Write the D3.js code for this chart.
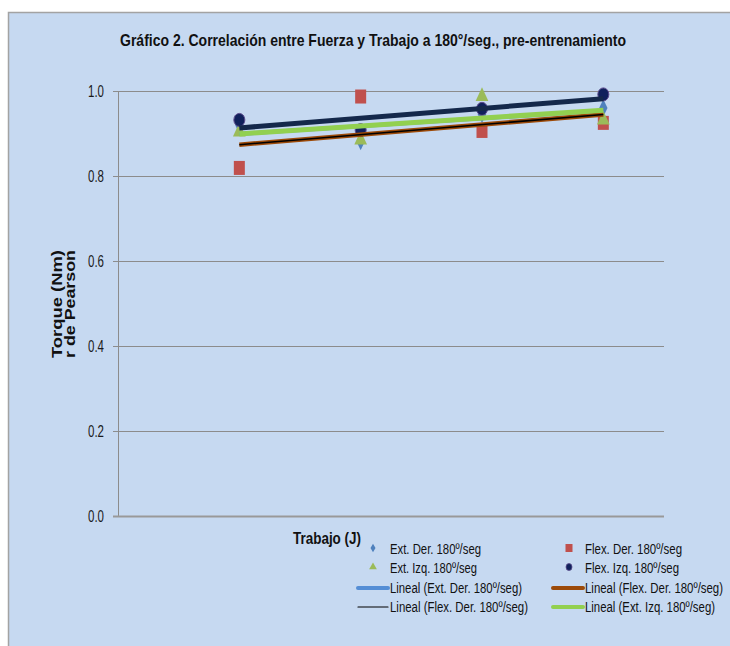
<!DOCTYPE html>
<html>
<head>
<meta charset="utf-8">
<script src="https://cdn.jsdelivr.net/npm/d3@7"></script>
<style>
  html, body { margin: 0; padding: 0; background: #ffffff; }
  svg { display: block; }
</style>
</head>
<body>
<svg id="chart" width="730" height="646"></svg>
<script>
// Session index (1..4) along the Trabajo axis
const sessions = [1, 2, 3, 4];

// Pearson r per series
const extDer  = [0.920, 0.881, 0.945, 0.960];
const flexDer = [0.819, 0.987, 0.906, 0.925];
const extIzq  = [0.904, 0.885, 0.987, 0.932];
const flexIzq = [0.932, 0.908, 0.958, 0.992];

const yTicks = [0.0, 0.2, 0.4, 0.6, 0.8, 1.0];

const titleText = "Gráfico 2. Correlación entre Fuerza y Trabajo a 180°/seg., pre-entrenamiento";
const legendLabels = [
  "Ext. Der. 180º/seg", "Flex. Der. 180º/seg",
  "Ext. Izq. 180º/seg", "Flex. Izq. 180º/seg",
  "Lineal (Ext. Der. 180º/seg)", "Lineal (Flex. Der. 180º/seg)",
  "Lineal (Flex. Der. 180º/seg)", "Lineal (Ext. Izq. 180º/seg)"
];

const svg = d3.select("#chart");
const font = "'Liberation Sans', Arial, sans-serif";

// Condensed lettering: squeeze a text to a given width
function squeeze(sel, w) {
  sel.attr("textLength", w).attr("lengthAdjust", "spacingAndGlyphs");
  return sel;
}

// Chart area panel
svg.append("rect").attr("x", 8.5).attr("y", 12.5).attr("width", 740).attr("height", 650)
  .attr("fill", "#c6d9f1").attr("stroke", "#a3a3a3").attr("stroke-width", 1.5);

const plot = { left: 118, right: 664, top: 91, bottom: 516 };
const x = d3.scaleLinear().domain([0, 4.5]).range([plot.left, plot.right]);
const y = d3.scaleLinear().domain([0, 1]).range([plot.bottom, plot.top]);

// Title
squeeze(svg.append("text").attr("x", 120).attr("y", 46)
  .attr("font-family", font).attr("font-weight", "bold").attr("font-size", 16.5)
  .attr("fill", "#111").text(titleText), 506);

// Gridlines
svg.append("g").selectAll("line").data(yTicks.filter(d => d > 0)).join("line")
  .attr("x1", plot.left).attr("x2", plot.right)
  .attr("y1", d => Math.round(y(d)) + 0.5).attr("y2", d => Math.round(y(d)) + 0.5)
  .attr("stroke", "#8c8c8c").attr("stroke-width", 1);

// Y axis
const yAxis = d3.axisLeft(y).tickValues(yTicks).tickFormat(d3.format(".1f")).tickSize(5).tickPadding(9);
const gy = svg.append("g").attr("transform", `translate(${plot.left},0)`).call(yAxis);
gy.select(".domain").attr("stroke", "#8c8c8c");
gy.selectAll(".tick line").attr("stroke", "#8c8c8c");
gy.selectAll(".tick text").attr("font-family", font).attr("font-size", 16).attr("fill", "#1a1a1a")
  .attr("textLength", 16).attr("lengthAdjust", "spacingAndGlyphs");

// X axis baseline
svg.append("line").attr("x1", plot.left - 5).attr("x2", plot.right)
  .attr("y1", y(0) + 0.5).attr("y2", y(0) + 0.5)
  .attr("stroke", "#999999").attr("stroke-width", 2);

// Y axis title
const yt = svg.append("g").attr("transform", "translate(62,304) rotate(-90)")
  .attr("font-family", font).attr("font-weight", "bold").attr("font-size", 15.5).attr("fill", "#111");
squeeze(yt.append("text").attr("x", -54).attr("y", 0).text("Torque (Nm)"), 108);
squeeze(yt.append("text").attr("x", -54).attr("y", 13).text("r de Pearson"), 108);

// X axis title
squeeze(svg.append("text").attr("x", 293).attr("y", 544).attr("font-family", font)
  .attr("font-weight", "bold").attr("font-size", 16).attr("fill", "#111").text("Trabajo (J)"), 68);

// Least squares fit
function fit(vals) {
  const mx = d3.mean(sessions), my = d3.mean(vals);
  const sxy = d3.sum(sessions, (s, i) => (s - mx) * (vals[i] - my));
  const sxx = d3.sum(sessions, s => (s - mx) * (s - mx));
  const b = sxy / sxx, a = my - b * mx;
  return [sessions[0], sessions[sessions.length - 1]].map(s => [s, a + b * s]);
}

const pts = vals => sessions.map((s, i) => ({ s, v: vals[i] }));
const marks = svg.append("g");

// Markers
const diamond = d3.symbol().type(d3.symbolDiamond).size(60);
marks.append("g").selectAll("path").data(pts(extDer)).join("path")
  .attr("d", diamond)
  .attr("transform", d => `translate(${x(d.s)},${y(d.v)}) scale(1,1.2)`)
  .attr("fill", "#4f81bd");

marks.append("g").selectAll("rect").data(pts(flexDer)).join("rect")
  .attr("x", d => x(d.s) - 5.5).attr("y", d => y(d.v) - 7)
  .attr("width", 11).attr("height", 14).attr("fill", "#c0504d");

const tri = d3.symbol().type(d3.symbolTriangle).size(70);
marks.append("g").selectAll("path").data(pts(extIzq)).join("path")
  .attr("d", tri)
  .attr("transform", d => `translate(${x(d.s)},${y(d.v)}) scale(1,1.25)`)
  .attr("fill", "#9bbb59");

marks.append("g").selectAll("ellipse").data(pts(flexIzq)).join("ellipse")
  .attr("cx", d => x(d.s)).attr("cy", d => y(d.v)).attr("rx", 5.5).attr("ry", 6.5)
  .attr("fill", "#10215c").attr("stroke", "#5b4a8c").attr("stroke-width", 1);

// Trend lines
const line = d3.line().x(d => x(d[0])).y(d => y(d[1]));
const trends = [
  { vals: extDer,  color: "#558ed5", w: 4 },
  { vals: flexDer, color: "#9c4a09", w: 4.5 },
  { vals: flexDer, color: "#000000", w: 1.5 },
  { vals: extIzq,  color: "#92d050", w: 5 },
  { vals: flexIzq, color: "#14284b", w: 5 }
];
svg.append("g").selectAll("path").data(trends).join("path")
  .attr("d", d => line(fit(d.vals)))
  .attr("fill", "none").attr("stroke", d => d.color).attr("stroke-width", d => d.w);

// Legend
const lg = svg.append("g").attr("font-family", font).attr("font-size", 11.5).attr("fill", "#111");
const cols = [{ sym: 373, lx1: 358, lx2: 388, tx: 390 }, { sym: 569, lx1: 553, lx2: 583, tx: 585 }];
const rows = [549, 568, 588, 607];
const legendWidths = [91, 97, 87, 94, 132, 138, 138, 130];
const legendKeys = [
  { kind: "diamond", color: "#4f81bd" }, { kind: "square", color: "#c0504d" },
  { kind: "triangle", color: "#9bbb59" }, { kind: "circle", color: "#10215c" },
  { kind: "line", color: "#558ed5", w: 4 }, { kind: "line", color: "#9c4a09", w: 4 },
  { kind: "line", color: "#000000", w: 1.2 }, { kind: "line", color: "#92d050", w: 4 }
];
legendKeys.forEach((k, i) => {
  const c = cols[i % 2], ry = rows[Math.floor(i / 2)];
  const g = lg.append("g");
  if (k.kind === "line") {
    g.append("line").attr("x1", c.lx1).attr("x2", c.lx2).attr("y1", ry).attr("y2", ry)
      .attr("stroke", k.color).attr("stroke-width", k.w).attr("stroke-linecap", "round");
  } else if (k.kind === "diamond") {
    g.append("path").attr("d", d3.symbol().type(d3.symbolDiamond).size(22)())
      .attr("transform", `translate(${c.sym},${ry - 1})`).attr("fill", k.color);
  } else if (k.kind === "square") {
    g.append("rect").attr("x", c.sym - 3.5).attr("y", ry - 5).attr("width", 7).attr("height", 8).attr("fill", k.color);
  } else if (k.kind === "triangle") {
    g.append("path").attr("d", d3.symbol().type(d3.symbolTriangle).size(26)())
      .attr("transform", `translate(${c.sym},${ry - 1})`).attr("fill", k.color);
  } else {
    g.append("ellipse").attr("cx", c.sym).attr("cy", ry - 1).attr("rx", 3).attr("ry", 3.5)
      .attr("fill", k.color).attr("stroke", "#5b4a8c").attr("stroke-width", 0.8);
  }
  // tall, narrow lettering
  squeeze(g.append("text").attr("transform", `translate(${c.tx},${ry + 5}) scale(1,1.2)`)
    .text(legendLabels[i]), legendWidths[i]);
});
</script>
</body>
</html>
